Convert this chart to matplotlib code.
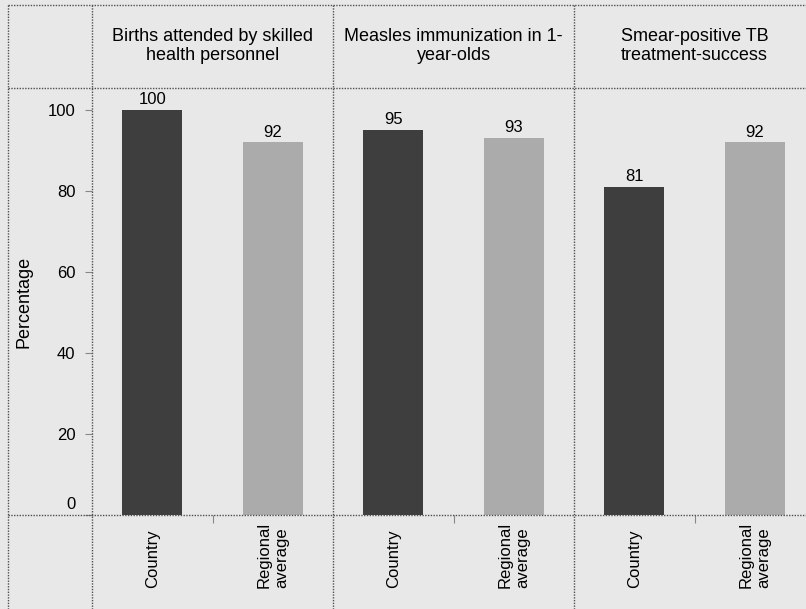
import matplotlib
matplotlib.use('Agg')
import matplotlib.pyplot as plt
from matplotlib.lines import Line2D
from matplotlib.transforms import blended_transform_factory, ScaledTranslation

plt.rcParams['font.family'] = ['Liberation Sans', 'DejaVu Sans']

# data
indicators = ['Births attended by skilled\nhealth personnel',
              'Measles immunization in 1-\nyear-olds',
              'Smear-positive TB\ntreatment-success']
groups = ['Country', 'Regional\naverage']
country = [100, 95, 81]
regional = [92, 93, 92]
yticks = [0, 20, 40, 60, 80, 100]

bg = '#e8e8e8'
bar_colors = ['#3e3e3e', '#ababab']
line_col = '#505050'

W, H = 806, 609
fig = plt.figure(figsize=(W/100, H/100), dpi=100, facecolor=bg)

fx = lambda px: px / W
fy = lambda py: 1 - py / H

left_edges = [92, 333, 574]
panel_w = 241
top, bottom = 88, 515

for i, title in enumerate(indicators):
	x0 = left_edges[i]
	ax = fig.add_axes([fx(x0), fy(bottom), panel_w / W, (bottom - top) / H])
	ax.set_facecolor('none')
	vals = [country[i], regional[i]]
	pos = range(len(groups))
	ax.bar(pos, vals, width=0.5, color=bar_colors)
	ax.set_xlim(-0.5, 1.5)
	ax.set_ylim(0, 105.4)
	for s in ax.spines.values():
		s.set_visible(False)

	for x, v in zip(pos, vals):
		ax.annotate(str(v), (x, v), xytext=(0, 2), textcoords='offset points',
			ha='center', va='bottom', fontsize=12)

	# little divider tick between the two bars
	ax.set_xticks([0.5])
	ax.set_xticklabels([])
	ax.tick_params(axis='x', length=6, color='#888888', width=0.8)

	trans = blended_transform_factory(ax.transData, fig.transFigure)
	for x, g in zip(pos, groups):
		ax.text(x, fy(588), g, transform=trans, rotation=90, ha='center',
			va='bottom', multialignment='left', fontsize=12)

	if i == 0:
		ax.set_yticks(yticks)
		ax.tick_params(axis='y', length=5, color='#888888', width=0.8, pad=7, labelsize=12)
		lab0 = ax.get_yticklabels()[0]
		lab0.set_transform(lab0.get_transform() + ScaledTranslation(0, 12/100, fig.dpi_scale_trans))
		ax.set_ylabel('Percentage', fontsize=13, labelpad=0)
		ax.yaxis.set_label_coords(fx(33), fy(302), transform=fig.transFigure)
	else:
		ax.set_yticks([])

	fig.text(fx(x0 + panel_w / 2), fy(46), title, ha='center', va='center',
		fontsize=13, linespacing=1.12)

# dotted trellis grid
for xp in [8, 92, 333, 574]:
	fig.add_artist(Line2D([fx(xp), fx(xp)], [fy(5), fy(620)], transform=fig.transFigure,
		color=line_col, lw=1.0, linestyle=(0, (1, 1))))
for yp in [5, 88, 515]:
	fig.add_artist(Line2D([fx(8), fx(820)], [fy(yp), fy(yp)], transform=fig.transFigure,
		color=line_col, lw=1.0, linestyle=(0, (1, 1))))

fig.savefig('out.png', dpi=100, facecolor=bg)
